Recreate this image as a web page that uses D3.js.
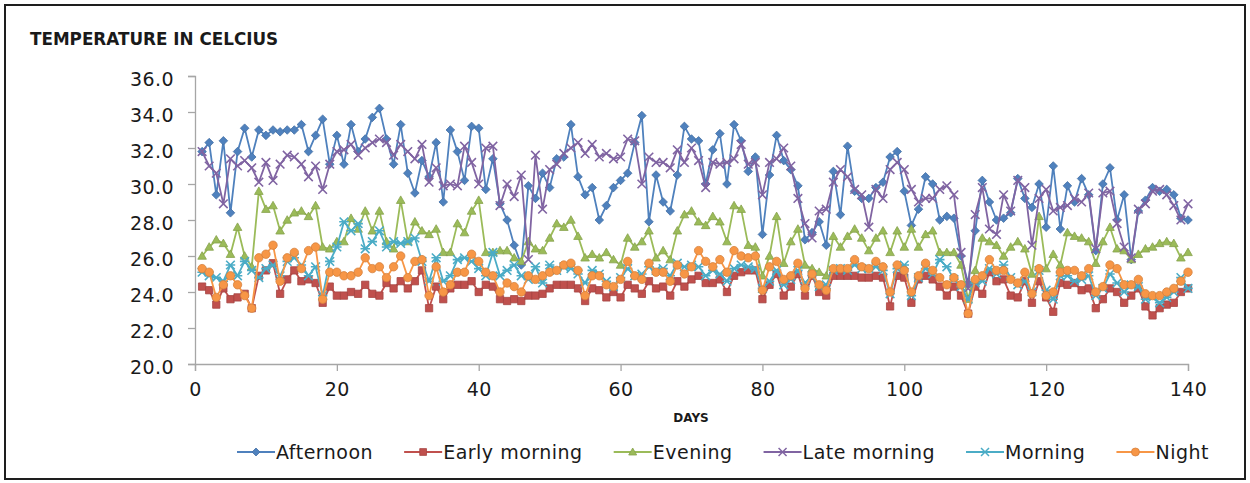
<!DOCTYPE html>
<html>
<head>
<meta charset="utf-8">
<script src="https://cdn.jsdelivr.net/npm/d3@7"></script>
<style>
  html, body { margin: 0; padding: 0; background: #fff; }
  #chart { width: 1250px; height: 483px; }
  text { font-family: "DejaVu Sans", Verdana, sans-serif; fill: #1a1a1a; }
</style>
</head>
<body>
<div id="chart"></div>
<script>
// Temperature readings, days 1..140

const days = d3.range(1, 141);

const afternoon = [
  31.8, 32.3, 29.4, 32.4, 28.4, 31.8, 33.1, 31.5, 33.0, 32.7,
  33.0, 32.9, 33.0, 33.0, 33.3, 31.8, 32.7, 33.6, 31.1, 32.7,
  31.1, 33.3, 31.8, 32.5, 33.7, 34.2, 32.5, 31.1, 33.3, 30.6,
  29.5, 31.3, 30.4, 32.3, 29.0, 33.0, 31.8, 30.2, 33.2, 33.1,
  29.7, 31.4, 28.9, 28.0, 26.6, 25.5, 29.9, 29.2, 30.6, 29.8,
  31.4, 31.5, 33.3, 30.4, 29.4, 29.8, 28.0, 28.8, 29.8, 30.2,
  30.6, 32.3, 33.8, 27.9, 30.5, 29.0, 28.5, 30.5, 33.2, 32.5,
  32.4, 30.0, 31.9, 32.8, 30.0, 33.3, 32.4, 30.7, 31.5, 27.2,
  30.5, 32.7, 31.3, 30.8, 29.9, 26.9, 27.3, 27.9, 26.6, 30.7,
  28.3, 32.1, 29.6, 29.2, 29.2, 29.8, 30.1, 31.5, 31.8, 29.6,
  27.7, 28.6, 30.4, 30.0, 28.0, 28.2, 28.1, 26.0, 24.5, 27.4,
  30.2, 29.0, 28.0, 28.1, 28.4, 30.3, 29.2, 28.7, 30.0, 27.6,
  31.0, 27.5, 29.9, 29.0, 30.3, 29.4, 26.3, 30.0, 30.9, 28.0,
  29.4, 25.8, 28.5, 29.1, 29.8, 29.6, 29.7, 29.4, 28.1, 28.0
];

const earlyMorning = [
  24.3, 24.1, 23.3, 24.2, 23.6, 23.7, 23.9, 23.1, 24.9, 25.2,
  25.6, 23.9, 24.7, 25.2, 24.6, 24.7, 24.5, 23.4, 24.3, 23.8,
  23.8, 24.0, 23.9, 24.4, 23.9, 23.8, 24.5, 24.2, 24.6, 24.2,
  24.6, 25.2, 23.1, 24.3, 23.6, 24.2, 24.4, 24.4, 24.6, 24.0,
  24.4, 24.3, 23.6, 23.5, 23.6, 23.5, 23.8, 23.8, 23.9, 24.2,
  24.4, 24.4, 24.4, 24.2, 23.5, 24.2, 24.1, 23.7, 24.0, 23.7,
  24.4, 24.2, 23.9, 24.6, 24.2, 24.3, 23.8, 24.6, 24.3, 24.7,
  24.9, 24.5, 24.5, 24.7, 24.0, 24.9, 25.1, 25.2, 25.2, 23.6,
  24.4, 25.0, 23.8, 24.3, 25.0, 23.8, 24.9, 24.0, 23.8, 24.9,
  24.9, 24.9, 24.9, 24.8, 24.8, 24.9, 24.8, 23.2, 24.9, 24.8,
  23.4, 24.7, 24.9, 24.7, 24.3, 23.8, 24.3, 23.8, 22.8, 24.3,
  23.9, 25.1, 24.6, 24.7, 23.8, 23.7, 24.6, 23.4, 24.6, 23.7,
  22.9, 24.5, 24.4, 24.5, 24.1, 24.2, 23.1, 23.6, 24.2, 24.0,
  23.4, 23.8, 24.2, 23.2, 22.7, 23.1, 23.3, 23.4, 24.0, 24.2
];

const evening = [
  26.0, 26.5, 26.9, 26.7, 26.1, 27.6, 26.0, 25.4, 29.6, 28.6,
  28.8, 27.4, 28.0, 28.4, 28.5, 28.2, 28.8, 26.5, 26.4, 26.8,
  26.8, 28.1, 27.5, 28.5, 27.4, 28.5, 26.8, 26.4, 29.1, 26.8,
  27.9, 27.4, 27.2, 27.5, 26.2, 26.2, 27.8, 27.3, 28.5, 29.1,
  26.2, 26.2, 26.3, 26.3, 25.9, 25.7, 26.8, 26.4, 26.3, 27.0,
  27.8, 27.6, 28.0, 27.1, 25.9, 26.1, 25.9, 26.2, 25.8, 25.5,
  27.0, 26.5, 26.8, 27.4, 25.9, 26.3, 25.8, 27.4, 28.3, 28.5,
  27.9, 27.7, 28.2, 27.9, 26.8, 28.8, 28.6, 26.6, 26.5, 24.9,
  26.0, 28.2, 25.6, 26.8, 27.5, 25.5, 25.3, 25.1, 24.9, 27.1,
  26.5, 27.1, 27.5, 27.0, 26.3, 27.0, 27.4, 26.2, 27.4, 26.5,
  27.5, 26.5, 27.2, 27.4, 26.2, 26.2, 26.2, 25.5, 23.6, 25.2,
  27.0, 26.8, 26.6, 26.0, 26.5, 26.8, 26.4, 25.0, 28.2, 25.3,
  26.1, 25.5, 27.3, 27.1, 27.0, 26.8, 25.6, 26.8, 27.6, 26.4,
  26.3, 25.8, 26.1, 26.4, 26.5, 26.7, 26.8, 26.7, 25.9, 26.2
];

const lateMorning = [
  31.8, 31.0, 30.6, 28.9, 31.4, 31.0, 31.3, 30.9, 30.1, 31.2,
  30.2, 31.1, 31.6, 31.5, 31.1, 30.4, 31.0, 29.7, 31.1, 31.8,
  31.9, 32.2, 31.6, 32.0, 32.3, 32.5, 32.3, 31.6, 32.2, 31.8,
  31.4, 32.2, 30.1, 30.9, 29.9, 30.0, 29.9, 32.1, 31.2, 30.0,
  32.0, 32.1, 28.8, 30.0, 29.3, 30.5, 25.8, 31.6, 28.6, 30.8,
  31.1, 31.7, 32.0, 32.3, 31.7, 32.2, 31.5, 31.7, 31.4, 31.5,
  32.5, 32.4, 30.0, 31.5, 31.2, 31.2, 30.9, 31.9, 31.2, 32.0,
  31.3, 29.8, 31.2, 31.1, 31.2, 31.4, 32.2, 31.1, 31.2, 29.4,
  31.2, 31.4, 32.0, 31.0, 29.2, 27.8, 27.0, 28.5, 28.6, 30.1,
  30.8, 30.4, 29.7, 29.4, 27.6, 29.7, 29.2, 30.8, 31.2, 30.8,
  29.7, 29.0, 29.2, 29.2, 29.7, 29.9, 29.4, 26.2, 24.2, 28.3,
  29.8, 27.5, 27.2, 29.4, 28.5, 30.2, 29.8, 26.6, 29.2, 29.7,
  28.5, 28.7, 28.8, 29.2, 29.0, 29.5, 26.4, 29.5, 29.6, 27.8,
  26.5, 25.9, 28.6, 28.9, 29.6, 29.7, 29.4, 28.8, 28.0, 28.9
];

const morning = [
  25.1, 24.9, 24.8, 24.6, 25.5, 24.9, 25.7, 25.2, 24.8, 25.3,
  25.5, 24.9, 25.7, 25.9, 25.5, 24.9, 25.4, 23.8, 25.7, 26.5,
  27.9, 27.4, 27.8, 26.4, 26.8, 27.4, 26.5, 26.8, 26.7, 26.8,
  27.0, 25.7, 24.6, 25.9, 24.6, 24.9, 25.8, 25.9, 25.7, 25.3,
  24.9, 26.2, 24.9, 25.2, 25.5, 24.9, 24.7, 25.4, 24.5, 25.5,
  25.2, 25.4, 25.3, 25.0, 24.5, 25.2, 25.0, 24.6, 24.3, 24.8,
  25.3, 24.9, 25.0, 25.4, 25.2, 25.3, 24.9, 25.6, 25.4, 25.5,
  25.4, 24.9, 25.2, 25.0, 24.6, 25.3, 25.5, 25.4, 25.3, 24.2,
  24.6, 25.2, 24.4, 24.7, 25.2, 24.5, 24.9, 24.3, 24.4, 25.2,
  25.3, 25.2, 25.5, 25.3, 25.3, 25.4, 25.2, 23.9, 25.3, 25.5,
  23.8, 24.8, 25.3, 25.0, 25.8, 25.4, 24.7, 24.3, 23.6, 24.5,
  24.6, 25.3, 25.0, 25.5, 24.8, 24.4, 24.6, 24.0, 25.2, 24.1,
  23.6, 24.9, 24.9, 24.6, 24.7, 24.9, 23.8, 24.2, 25.0, 24.5,
  24.0, 24.4, 24.3, 23.6, 23.7, 23.4, 23.7, 24.0, 24.8, 24.2
];

const night = [
  25.3, 25.1, 23.7, 24.4, 24.9, 24.4, 23.8, 23.1, 25.9, 26.1,
  26.6, 24.6, 25.9, 26.2, 25.3, 26.3, 26.5, 23.6, 25.1, 25.1,
  24.9, 24.9, 25.1, 25.9, 25.3, 25.4, 24.8, 25.4, 26.0, 24.8,
  25.7, 25.8, 23.8, 25.4, 24.0, 24.4, 25.1, 25.1, 26.1, 25.7,
  25.1, 24.9, 24.0, 24.5, 24.3, 24.0, 24.9, 24.7, 24.9, 25.1,
  25.2, 25.5, 25.6, 25.2, 23.8, 24.9, 24.9, 24.4, 24.3, 24.7,
  25.7, 24.9, 24.7, 25.6, 25.1, 25.1, 24.6, 25.5, 25.0, 25.4,
  26.3, 25.7, 25.4, 25.8, 25.1, 26.3, 26.0, 25.9, 26.0, 24.1,
  25.4, 25.7, 24.7, 24.9, 25.6, 24.2, 25.0, 24.4, 24.1, 25.3,
  25.3, 25.3, 25.8, 25.4, 25.3, 25.7, 25.4, 24.0, 25.5, 25.2,
  24.0, 24.9, 25.6, 25.2, 24.8, 24.4, 24.8, 24.4, 22.8, 24.7,
  24.9, 25.8, 25.2, 25.2, 24.7, 24.5, 25.1, 23.9, 25.3, 23.8,
  24.0, 25.1, 25.2, 25.2, 24.9, 25.3, 24.0, 24.3, 25.5, 25.3,
  24.4, 24.4, 24.7, 23.9, 23.8, 23.8, 24.0, 24.2, 24.6, 25.1
];

const seriesNames = ['Afternoon', 'Early morning', 'Evening', 'Late morning', 'Morning', 'Night'];
const seriesValues = [afternoon, earlyMorning, evening, lateMorning, morning, night];
const seriesColors = ['#4f81bd', '#c0504d', '#9bbb59', '#8064a2', '#4bacc6', '#f79646'];
const seriesMarkers = ['diamond', 'square', 'triangle', 'cross', 'star', 'circle'];

const xTicks = [0, 20, 40, 60, 80, 100, 120, 140];
const yTicks = [20, 22, 24, 26, 28, 30, 32, 34, 36];

// marker path builders, r = half width in px
const markerPaths = {
    diamond: r => `M0,${-r}L${r},0L0,${r}L${-r},0Z`,
    square: r => `M${-r * 0.85},${-r * 0.85}H${r * 0.85}V${r * 0.85}H${-r * 0.85}Z`,
    triangle: r => `M0,${-r}L${r},${r * 0.75}L${-r},${r * 0.75}Z`,
    circle: r => `M${r},0A${r},${r} 0 1,1 ${-r},0A${r},${r} 0 1,1 ${r},0Z`,
    cross: r => `M${-r},${-r}L${r},${r}M${r},${-r}L${-r},${r}`,
    star: r => `M${-r},${-r}L${r},${r}M${r},${-r}L${-r},${r}M${-r * 1.1},0H${r * 1.1}`
};
const strokeOnly = { cross: true, star: true };

const width = 1250, height = 483;
const margin = { left: 195, right: 62, top: 76, bottom: 119 };

const svg = d3.select('#chart').append('svg')
    .attr('width', width)
    .attr('height', height);

// outer frame
svg.append('rect')
    .attr('x', 5).attr('y', 5)
    .attr('width', 1240).attr('height', 474)
    .attr('fill', '#fff')
    .attr('stroke', '#1e1e1e')
    .attr('stroke-width', 2);

const x = d3.scaleLinear().domain([0, 140]).range([margin.left, width - margin.right]);
const y = d3.scaleLinear().domain([20, 36]).range([height - margin.bottom, margin.top]);

// title
svg.append('text')
    .attr('x', 30).attr('y', 45)
    .attr('font-size', '16.8px')
    .attr('font-weight', 'bold')
    .text('TEMPERATURE IN CELCIUS');

// axes
const yAxis = svg.append('g')
    .attr('transform', `translate(${margin.left},0)`)
    .call(d3.axisLeft(y).tickValues(yTicks).tickFormat(d3.format('.1f')).tickSizeOuter(0).tickSize(7).tickPadding(14));

const xAxis = svg.append('g')
    .attr('transform', `translate(0,${height - margin.bottom})`)
    .call(d3.axisBottom(x).tickValues(xTicks).tickSizeOuter(0).tickSize(7).tickPadding(10));

[xAxis, yAxis].forEach(g => {
    g.select('.domain').attr('stroke', '#a6a6a6').attr('stroke-width', 1.3);
    g.selectAll('.tick line').attr('stroke', '#a6a6a6').attr('stroke-width', 1.3);
    g.selectAll('.tick text')
        .attr('font-size', '19px')
        .attr('font-family', '"DejaVu Sans", Verdana, sans-serif')
        .attr('letter-spacing', '0.4px')
        .attr('fill', '#1a1a1a');
});
yAxis.selectAll('.tick text').attr('dy', '0.5em');
xAxis.selectAll('.tick text').attr('dy', '0.78em');

svg.append('text')
    .attr('x', (x(0) + x(140)) / 2 - 0.5)
    .attr('y', 422)
    .attr('text-anchor', 'middle')
    .attr('font-size', '12px')
    .attr('font-weight', 'bold')
    .text('DAYS');

// series
const line = d3.line()
    .x(d => x(d.day))
    .y(d => y(d.value));

seriesNames.forEach((name, i) => {
    const color = seriesColors[i];
    const marker = seriesMarkers[i];
    const points = days.map((day, k) => ({ day, value: seriesValues[i][k] }));
    const g = svg.append('g').attr('class', 'series');

    g.append('path')
        .datum(points)
        .attr('fill', 'none')
        .attr('stroke', color)
        .attr('stroke-width', 1.8)
        .attr('stroke-linejoin', 'round')
        .attr('d', line);

    g.selectAll('path.marker')
        .data(points)
        .join('path')
        .attr('class', 'marker')
        .attr('transform', d => `translate(${x(d.day)},${y(d.value)})`)
        .attr('d', markerPaths[marker](marker === 'circle' ? 4.2 : 4.3))
        .attr('fill', strokeOnly[marker] ? 'none' : color)
        .attr('stroke', strokeOnly[marker] ? color : d3.color(color).darker(0.4))
        .attr('stroke-width', strokeOnly[marker] ? 1.6 : 0.8);
});

// legend
const legend = svg.append('g').attr('class', 'legend');
let lx = 237;
const ly = 452;
seriesNames.forEach((name, i) => {
    const color = seriesColors[i];
    const marker = seriesMarkers[i];
    const item = legend.append('g');
    item.append('line')
        .attr('x1', lx).attr('x2', lx + 38)
        .attr('y1', ly).attr('y2', ly)
        .attr('stroke', color)
        .attr('stroke-width', 1.8);
    item.append('path')
        .attr('transform', `translate(${lx + 19},${ly})`)
        .attr('d', markerPaths[marker](4))
        .attr('fill', strokeOnly[marker] ? 'none' : color)
        .attr('stroke', strokeOnly[marker] ? color : d3.color(color).darker(0.4))
        .attr('stroke-width', strokeOnly[marker] ? 1.5 : 0.8);
    const label = item.append('text')
        .attr('x', lx + 39)
        .attr('y', ly + 7)
        .attr('font-size', '19px')
        .attr('letter-spacing', '0.5px')
        .text(name);
    lx += 39 + label.node().getComputedTextLength() + 31;
});
</script>
</body>
</html>
